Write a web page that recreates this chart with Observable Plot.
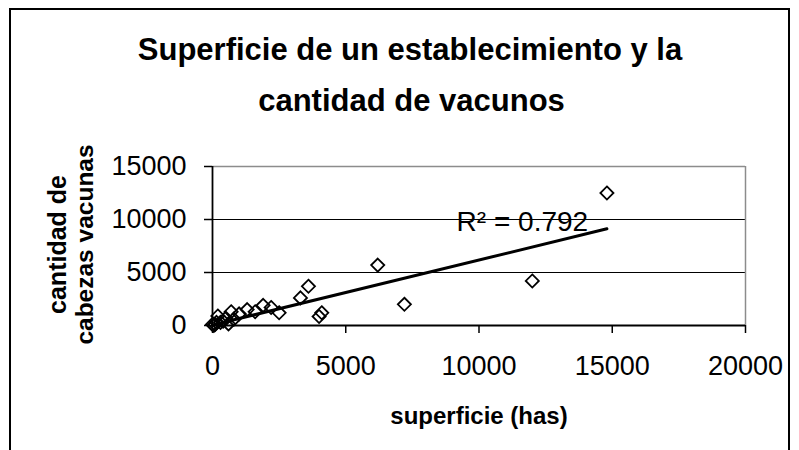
<!DOCTYPE html>
<html><head><meta charset="utf-8">
<script src="https://cdn.jsdelivr.net/npm/d3@7"></script>
<script src="https://cdn.jsdelivr.net/npm/@observablehq/plot@0.6"></script>
<style>
body{margin:0;background:#fff;}
#wrap{position:relative;width:799px;height:450px;overflow:hidden;}
#frame{position:absolute;left:9px;top:8px;width:781px;height:480px;border:2px solid #000;box-sizing:border-box;pointer-events:none;}
#wrap svg{position:absolute;left:0;top:0;}
</style></head><body><div id="wrap"><div id="frame"></div></div>
<script>
const superficie = [14800, 12000, 7200, 6200, 4100, 4000, 3600, 3300, 2500, 2200, 1900, 1600, 1300, 1000, 800, 700, 600, 500, 400, 300, 200, 150, 100, 50, 0];
const vacunos    = [12500, 4200, 2000, 5700, 1200, 850, 3700, 2600, 1200, 1700, 1900, 1300, 1500, 1100, 600, 1300, 150, 700, 400, 300, 900, 300, 100, 0, 100];
const trendX = [0, 14800];
const trendY = [50, 9120];
const xTicks = [0, 5000, 10000, 15000, 20000];
const yTicks = [0, 5000, 10000, 15000];
const gridY = [5000, 10000];
const titleLines = ["Superficie de un establecimiento y la", "cantidad de vacunos"];
const yLabelLines = ["cantidad de", "cabezas vacunas"];
const xLabel = "superficie (has)";
const r2Label = "R² = 0.792";

const points = superficie.map((x, i) => ({x, y: vacunos[i]}));
const trend = trendX.map((x, i) => ({x, y: trendY[i]}));
const font = "'Liberation Sans', Arial, sans-serif";

const chart = Plot.plot({
  width: 799,
  height: 450,
  marginLeft: 212,
  marginRight: 54,
  marginTop: 166,
  marginBottom: 125,
  style: {fontFamily: font, fontSize: "27px", color: "#000", background: "transparent", overflow: "visible"},
  x: {domain: [0, 20000]},
  y: {domain: [0, 15000]},
  marks: [
    Plot.ruleY(gridY, {stroke: "#000", strokeWidth: 1.2}),
    Plot.ruleY([15000], {stroke: "#8c8c8c", strokeWidth: 1.5}),
    Plot.ruleX([20000], {stroke: "#8c8c8c", strokeWidth: 1.5}),
    Plot.axisX({ticks: xTicks, tickSize: 8, tickPadding: 22, tickFormat: d => String(d), fontSize: 27, stroke: "#000", strokeWidth: 1.5, label: null}),
    Plot.axisY({ticks: yTicks, tickSize: 8, tickPadding: 18, tickFormat: d => String(d), fontSize: 27, stroke: "#000", strokeWidth: 1.5, label: null}),
    Plot.ruleX([0], {stroke: "#000", strokeWidth: 1.8}),
    Plot.ruleY([0], {stroke: "#000", strokeWidth: 1.8}),
    Plot.line(trend, {x: "x", y: "y", stroke: "#000", strokeWidth: 3}),
    Plot.dot(points, {x: "x", y: "y", symbol: "diamond2", r: 5.9, stroke: "#000", strokeWidth: 1.8, fill: "none"}),
    Plot.text([r2Label], {x: 9160, y: 8960, text: d => d, textAnchor: "start", lineAnchor: "bottom", fontSize: 28, fill: "#000"}),
    Plot.text([titleLines[0]], {frameAnchor: "top-left", dx: 197.5, dy: -107, text: d => d, textAnchor: "middle", lineAnchor: "bottom", fontSize: 31, fontWeight: "bold", fill: "#000"}),
    Plot.text([titleLines[1]], {frameAnchor: "top-left", dx: 199, dy: -56, text: d => d, textAnchor: "middle", lineAnchor: "bottom", fontSize: 31, fontWeight: "bold", fill: "#000"}),
    Plot.text([xLabel], {frameAnchor: "bottom", dy: 98, text: d => d, textAnchor: "middle", lineAnchor: "bottom", fontSize: 24, fontWeight: "bold", fill: "#000"}),
    Plot.text([yLabelLines[0]], {frameAnchor: "left", dx: -147, dy: -1.5, rotate: -90, text: d => d, textAnchor: "middle", lineAnchor: "bottom", fontSize: 25, fontWeight: "bold", fill: "#000"}),
    Plot.text([yLabelLines[1]], {frameAnchor: "left", dx: -120, dy: -1.5, rotate: -90, text: d => d, textAnchor: "middle", lineAnchor: "bottom", fontSize: 24.5, fontWeight: "bold", fill: "#000"})
  ]
});
document.getElementById("wrap").prepend(chart);
</script>
</body></html>
